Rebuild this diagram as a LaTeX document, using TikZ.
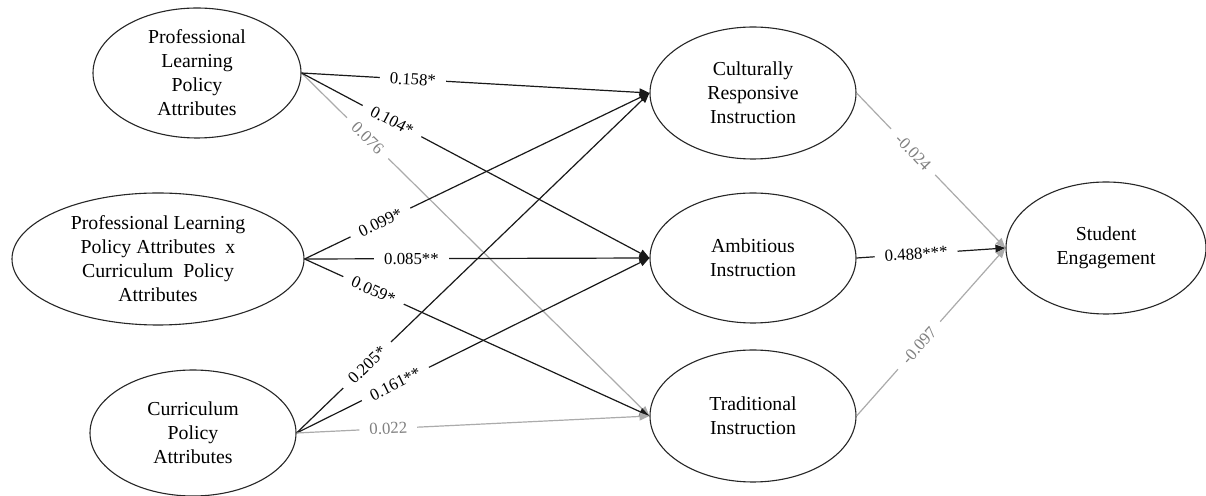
\documentclass[tikz,border=0pt]{standalone}
\usepackage{fontspec}
\setmainfont{Liberation Serif}
\usetikzlibrary{shapes.geometric,arrows.meta}
\begin{document}
\begin{tikzpicture}[x=0.5pt,y=-0.5pt,
  lat/.style={draw=black!85, line width=0.55pt, ellipse, inner sep=0pt, align=center,
    font=\fontsize{9.9}{12}\selectfont},
  conn/.style={line width=0.6pt, draw=black!90, -{Triangle[length=5pt,width=4pt]}},
  gconn/.style={conn, draw=black!33},
  lbl/.style={sloped, fill=white, inner xsep=5pt, inner ysep=1pt,
    font=\fontsize{8.4}{10}\selectfont, text=black},
  glbl/.style={lbl, text=black!50}]
\path[fill=white, use as bounding box] (0,0) rectangle (1206,496);

\node[lat, minimum width=104pt, minimum height=65pt] (plpa) at (197,73)
  {Professional\\Learning\\Policy\\Attributes};
\node[lat, minimum width=146pt, minimum height=66pt] (int) at (158,259)
  {Professional Learning\\Policy Attributes\ \ x\\Curriculum\ \ Policy\\Attributes};
\node[lat, minimum width=103pt, minimum height=63pt] (cur) at (193,433)
  {Curriculum\\Policy\\Attributes};

\node[lat, minimum width=103pt, minimum height=66pt] (cri) at (753,93)
  {Culturally\\Responsive\\Instruction};
\node[lat, minimum width=103pt, minimum height=65pt] (ai) at (753,258)
  {Ambitious\\Instruction};
\node[lat, minimum width=103pt, minimum height=66pt] (ti) at (753,416)
  {Traditional\\Instruction};

\node[lat, minimum width=100pt, minimum height=66pt] (se) at (1106,248)
  {Student\\Engagement};

% from Professional Learning Policy Attributes
\draw[gconn] (plpa.east) -- node[glbl, pos=0.19] {0.076} (ti.west);
\draw[conn] (plpa.east) -- node[lbl, pos=0.32] {0.158*} (cri.west);
\draw[conn] (plpa.east) -- node[lbl, pos=0.26] {0.104*} (ai.west);

% from interaction
\draw[conn] (int.east) -- node[lbl, pos=0.22] {0.099*} (cri.west);
\draw[conn] (int.east) -- node[lbl, pos=0.31] {0.085**} (ai.west);
\draw[conn] (int.east) -- node[lbl, pos=0.20] {0.059*} (ti.west);

% from Curriculum Policy Attributes
\draw[conn] (cur.east) -- node[lbl, pos=0.20] {0.205*} (cri.west);
\draw[conn] (cur.east) -- node[lbl, pos=0.28] {0.161**} (ai.west);
\draw[gconn] (cur.east) -- node[glbl, pos=0.26] {0.022} (ti.west);

% to Student Engagement
\draw[gconn] (cri.east) -- node[glbl, pos=0.38] {-0.024} (se.west);
\draw[conn] (ai.east) -- node[lbl, pos=0.40] {0.488***} (se.west);
\draw[gconn] (ti.east) -- node[glbl, pos=0.42] {-0.097} (se.west);
\end{tikzpicture}
\end{document}
